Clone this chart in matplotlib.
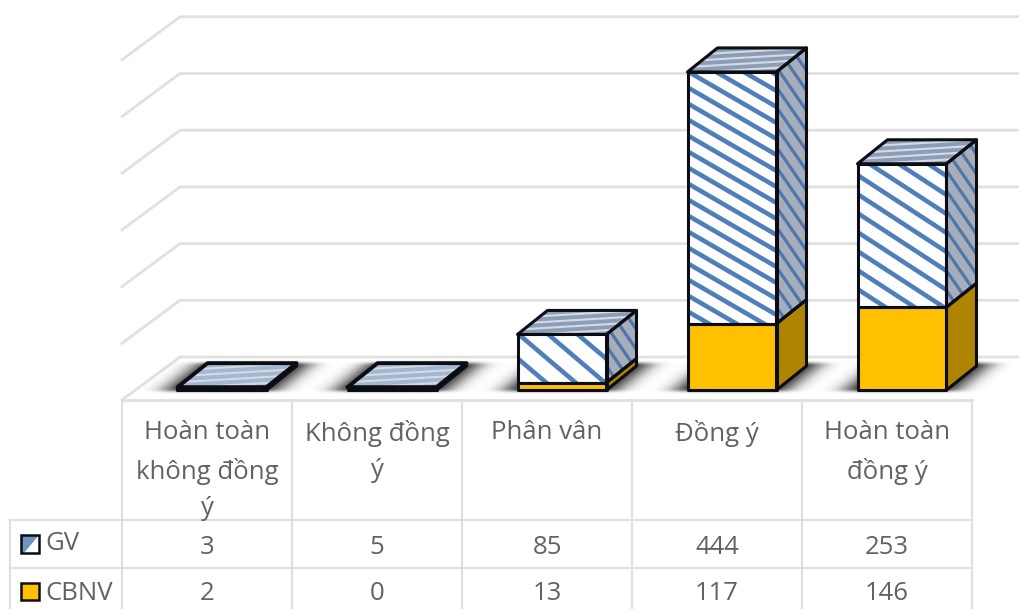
import numpy as np
import matplotlib
matplotlib.use('Agg')
import matplotlib.pyplot as plt
from matplotlib.patches import Polygon, Rectangle

categories = ['Hoàn toàn\nkhông đồng\ný', 'Không đồng\ný', 'Phân vân', 'Đồng ý', 'Hoàn toàn\nđồng ý']
gv = [3, 5, 85, 444, 253]
cbnv = [2, 0, 13, 117, 146]
grid_values = [0, 100, 200, 300, 400, 500, 600]

plt.rcParams['font.family'] = ['Open Sans', 'DejaVu Sans']

W, H = 1019, 609
TEXT = '#626262'
LINE = '#e0e0e0'
EDGE = '#0c0c14'
BLUE = '#4f7fbb'
GOLD = '#ffc000'
GOLD_SIDE = '#ae8400'

# value -> pixel: 0 sits at y=390, 100 units is 56.7 px
PX_PER_UNIT = 0.567
BASE_Y = 390
DEPTH_X, DEPTH_Y = 30, 24

fig = plt.figure(figsize=(W / 100, H / 100), dpi=100)
ax = fig.add_axes([0, 0, 1, 1])
ax.set_xlim(-207 / 170, (W - 207) / 170)
ax.set_ylim((BASE_Y - H) / PX_PER_UNIT, BASE_Y / PX_PER_UNIT)
ax.axis('off')

dx = DEPTH_X / 170
dy = DEPTH_Y / PX_PER_UNIT
bar_w = 89 / 170
bar_off = 15 / 170


def py(v):
    return (BASE_Y - v) / PX_PER_UNIT


def px(v):
    return (v - 207) / 170


def face(pts, color, zorder):
    p = Polygon(pts, closed=True, facecolor=color, edgecolor='none', zorder=zorder)
    ax.add_patch(p)
    return p


def outline(pts, zorder, lw=2.2):
    ax.add_patch(Polygon(pts, closed=True, facecolor='none', edgecolor=EDGE, lw=lw,
                         joinstyle='round', zorder=zorder))


def stripes(patch, x0, x1, y0, y1, slope_px, gap_px, color, lw, zorder):
    # slanted lines clipped to one face, slope in pixels down per pixel right
    left, right = x0 * 170, x1 * 170
    low, high = y0 * PX_PER_UNIT, y1 * PX_PER_UNIT
    span = (right - left) * abs(slope_px)
    for c in np.arange(low - span - gap_px, high + span + gap_px, gap_px):
        ys = np.array([c, c - slope_px * (right - left)])
        line, = ax.plot([x0, x1], ys / PX_PER_UNIT, color=color, lw=lw, zorder=zorder,
                        solid_capstyle='butt')
        line.set_clip_path(patch)


def blur(a, sigma, axis):
    r = int(sigma * 3)
    k = np.exp(-0.5 * (np.arange(-r, r + 1) / sigma) ** 2)
    k /= k.sum()
    return np.apply_along_axis(lambda m: np.convolve(m, k, mode='same'), axis, a)


# back wall grid lines and their slanted left ends
for v in grid_values:
    y_back = v + (BASE_Y - 357) / PX_PER_UNIT
    y_front = y_back - 43 / PX_PER_UNIT
    ax.plot([px(122), px(180), px(W)], [y_front, y_back, y_back], color=LINE, lw=2.0,
            zorder=1, solid_joinstyle='round')

# soft shadows on the floor, blurred mask in figure pixels
yy, xx = np.mgrid[0:H, 0:W]
mask = np.zeros((H, W))
for i in range(len(categories)):
    x0 = 207 + 170 * i + 15 - 44.5
    x1 = x0 + 89
    shear = (BASE_Y - yy) * 1.25
    inside = (yy >= 363) & (yy <= BASE_Y) & (xx >= x0 - 12 + shear) & (xx <= x1 + 8 + shear)
    mask[inside] = 1.0
mask = blur(blur(mask, 12, 1), 1.5, 0)
rgba = np.zeros((H, W, 4))
rgba[..., 3] = np.clip(mask * 0.95, 0, 1)
ax.imshow(rgba, extent=(px(0), px(W), py(H), py(0)), aspect='auto', zorder=2,
          interpolation='bilinear')
ax.set_xlim(px(0), px(W))
ax.set_ylim(py(H), py(0))

# stripe gaps per bar, the chart stretched its texture to each column
front_gap = [12, 12, 25, 16, 19]
front_slope = [0.6, 0.6, 0.85, 0.58, 0.65]

for i in range(len(categories)):
    x0 = i + bar_off - bar_w / 2
    x1 = x0 + bar_w
    z = 3 + i
    y_mid = cbnv[i]
    y_top = cbnv[i] + gv[i]
    flat = gv[i] < 10

    if cbnv[i] > 0:
        front = [(x0, 0), (x1, 0), (x1, y_mid), (x0, y_mid)]
        side = [(x1, 0), (x1 + dx, dy), (x1 + dx, y_mid + dy), (x1, y_mid)]
        face(front, GOLD, z)
        face(side, GOLD_SIDE, z)
        outline(front, z + 0.3)
        outline(side, z + 0.3)

    front = [(x0, y_mid), (x1, y_mid), (x1, y_top), (x0, y_top)]
    side = [(x1, y_mid), (x1 + dx, y_mid + dy), (x1 + dx, y_top + dy), (x1, y_top)]
    top = [(x0, y_top), (x1, y_top), (x1 + dx, y_top + dy), (x0 + dx, y_top + dy)]

    p = face(front, 'white', z)
    stripes(p, x0, x1, y_mid, y_top, front_slope[i], front_gap[i], BLUE, 3.3, z + 0.1)
    p = face(side, '#a6aebb', z)
    stripes(p, x1, x1 + dx, y_mid, y_top + dy, 1.45, 20, '#4f76a9', 2.3, z + 0.1)
    p = face(top, '#a5b6cf' if flat else '#8c9db5', z)
    stripes(p, x0, x1 + dx, y_top, y_top + dy, -0.06, 6, '#d3dbe7', 1.5, z + 0.1)

    outline(front, z + 0.3)
    outline(side, z + 0.3)
    outline(top, z + 0.3, lw=2.8 if flat else 2.2)

# data table under the chart
col_edges = [122, 292, 462, 632, 802, 972]
for x in col_edges:
    ax.plot([px(x), px(x)], [py(400), py(H)], color=LINE, lw=1.6, zorder=1)
ax.plot([px(10), px(10)], [py(520), py(H)], color=LINE, lw=1.6, zorder=1)
ax.plot([px(122), px(972)], [py(400), py(400)], color=LINE, lw=2.0, zorder=1)
for y in [520, 568]:
    ax.plot([px(10), px(972)], [py(y), py(y)], color=LINE, lw=1.6, zorder=1)

FS = 18.5
for i, lab in enumerate(categories):
    ax.text(i, py(420), lab, ha='center', va='top', fontsize=FS, color=TEXT, linespacing=1.6)
    ax.text(i, py(547), str(gv[i]), ha='center', va='center', fontsize=FS, color=TEXT)
    ax.text(i, py(594), str(cbnv[i]), ha='center', va='center', fontsize=FS, color=TEXT)

# legend keys in the first column
key = Rectangle((px(21), py(553)), 18 / 170, 18 / PX_PER_UNIT, facecolor='#6f94c4',
                edgecolor='none', zorder=3)
ax.add_patch(key)
ax.add_patch(Polygon([(px(39), py(535)), (px(39), py(553)), (px(24), py(553))], closed=True,
                     facecolor='white', edgecolor='none', zorder=3.1))
ax.add_patch(Rectangle((px(21), py(553)), 18 / 170, 18 / PX_PER_UNIT, facecolor='none',
                       edgecolor=EDGE, lw=1.8, zorder=3.2))
ax.add_patch(Rectangle((px(21), py(600)), 18 / 170, 17 / PX_PER_UNIT, facecolor=GOLD,
                       edgecolor=EDGE, lw=1.8, zorder=3))
ax.text(px(45), py(544), 'GV', ha='left', va='center', fontsize=FS, color=TEXT)
ax.text(px(45), py(594), 'CBNV', ha='left', va='center', fontsize=FS, color=TEXT)

fig.savefig('out.png', dpi=100, facecolor='white')
